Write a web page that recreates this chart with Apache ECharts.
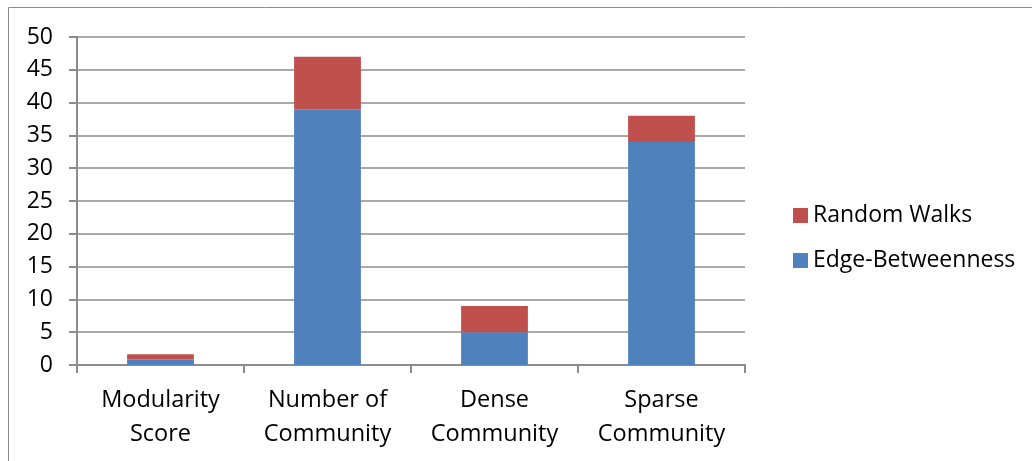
<!DOCTYPE html>
<html>
<head>
<meta charset="utf-8">
<script src="https://cdn.jsdelivr.net/npm/echarts@6/dist/echarts.min.js"></script>
<style>
  html, body { margin: 0; padding: 0; background: #fff; }
  #chart { width: 1032px; height: 461px; }
</style>
</head>
<body>
<div id="chart"></div>
<script>
const categories = ['Modularity\nScore', 'Number of\nCommunity', 'Dense\nCommunity', 'Sparse\nCommunity']
const edgeBetweenness = [0.85, 39, 5, 34]
const randomWalks = [0.78, 8, 4, 4]
const yTicks = { min: 0, max: 50, interval: 5 }

const FONT = '"Open Sans", "Noto Sans", sans-serif'
const AXIS = '#8c8c8c'

const chart = echarts.init(document.getElementById('chart'))
chart.setOption({
  animation: false,
  textStyle: { fontFamily: FONT },
  graphic: [{
    type: 'rect',
    shape: { x: 8.5, y: 7.5, width: 1100, height: 500 },
    style: { fill: 'none', stroke: AXIS, lineWidth: 1 },
    silent: true,
  }],
  grid: { left: 77, right: 287, top: 37, bottom: 96 },
  legend: {
    orient: 'vertical',
    left: 788, top: 199,
    itemWidth: 15, itemHeight: 15, itemGap: 22,
    icon: 'rect',
    data: ['Random Walks', 'Edge-Betweenness'],
    textStyle: { fontSize: 23, color: '#000', fontFamily: FONT },
  },
  xAxis: {
    type: 'category',
    data: categories,
    axisLine: { lineStyle: { color: AXIS, width: 2 } },
    axisTick: { show: true, length: 8, lineStyle: { color: AXIS, width: 2 } },
    axisLabel: { fontSize: 23.5, color: '#000', lineHeight: 34, margin: 18 },
  },
  yAxis: {
    type: 'value',
    min: yTicks.min, max: yTicks.max, interval: yTicks.interval,
    axisLine: { show: true, lineStyle: { color: AXIS, width: 2 } },
    axisTick: { show: true, length: 8, lineStyle: { color: AXIS, width: 2 } },
    splitLine: { lineStyle: { color: AXIS, width: 1.5 } },
    axisLabel: { fontSize: 23, color: '#000', margin: 24 },
  },
  series: [
    {
      name: 'Edge-Betweenness', type: 'bar', stack: 'total',
      data: edgeBetweenness, barWidth: '40%',
      itemStyle: { color: '#4f81bd' },
    },
    {
      name: 'Random Walks', type: 'bar', stack: 'total',
      data: randomWalks, barWidth: '40%',
      itemStyle: { color: '#c0504d' },
    },
  ],
})
</script>
</body>
</html>
